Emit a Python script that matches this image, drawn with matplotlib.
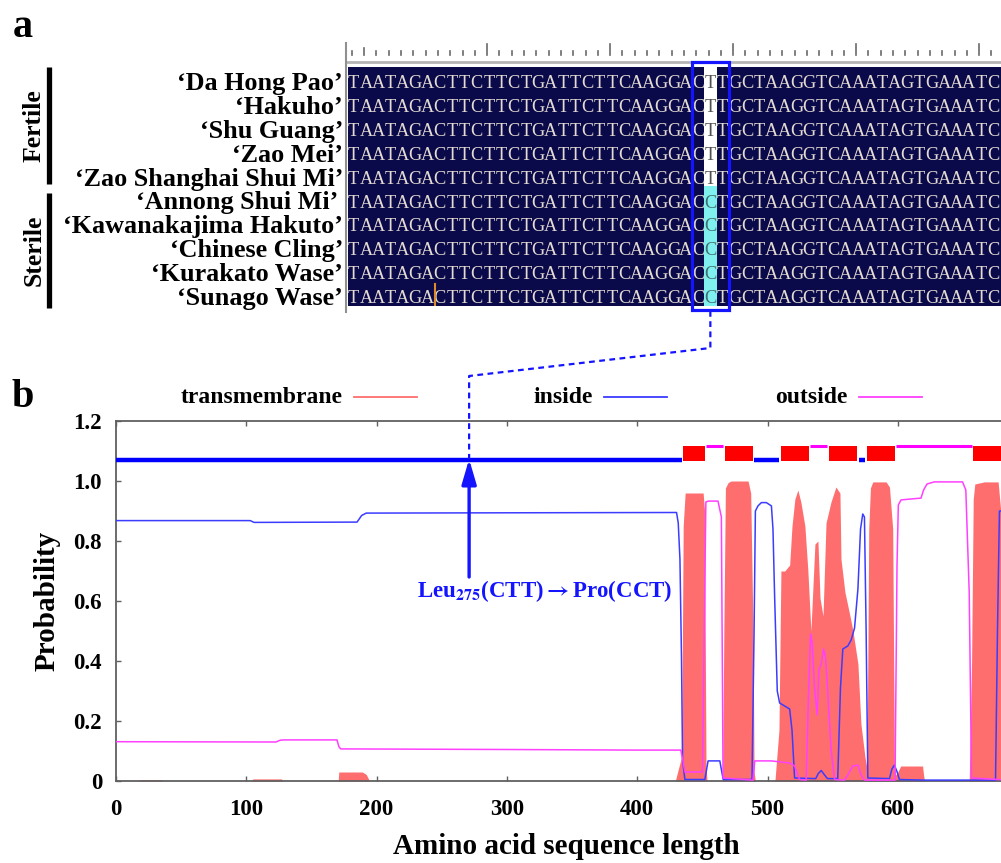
import matplotlib
matplotlib.use("Agg")
import matplotlib.pyplot as plt
from matplotlib.lines import Line2D
from matplotlib.patches import Rectangle
from matplotlib.ticker import FixedLocator, FuncFormatter

# ------------------------------------------------------------------ data
# panel a: alignment
cultivars = ["‘Da Hong Pao’", "‘Hakuho’", "‘Shu Guang’", "‘Zao Mei’",
             "‘Zao Shanghai Shui Mi’", "‘Annong Shui Mi’ ", "‘Kawanakajima Hakuto’",
             "‘Chinese Cling’", "‘Kurakato Wase’", "‘Sunago Wase’"]
groups = ["Fertile", "Sterile"]
group_sizes = [5, 5]
fertile_seq = "TAATAGACTTCTTCTGATTCTTCAAGGACTTGCTAAGGTCAAATAGTGAAATC"
sterile_seq = "TAATAGACTTCTTCTGATTCTTCAAGGACCTGCTAAGGTCAAATAGTGAAATC"
snp_col = 29          # 0-based column of the T/C polymorphism
box_cols = (28, 31)   # boxed codon columns

# panel b: TMHMM posterior probabilities (x = residue, y = probability)
tm_points = [(0, 0), (17, 0), (18, 0.004), (35, 0.004), (36, 0), (104, 0), (105, 0.007),
             (127, 0.007), (128, 0), (170.5, 0), (171, 0.03), (189, 0.03), (192, 0.022),
             (194, 0.005), (194.5, 0), (427, 0), (429.2, 0), (432.2, 0.05), (434.1, 0.08),
             (435.3, 0.85), (436.8, 0.96), (450.6, 0.96), (451.7, 0.9), (452.8, 0.05),
             (453.6, 0), (465.5, 0), (466.5, 0.5), (467.7, 0.977), (469.8, 0.995),
             (472.1, 1.0), (485.1, 1.0), (487.1, 0.96), (488.9, 0.5), (489.7, 0.03),
             (490.7, 0), (505.7, 0), (508.8, 0.17), (510.3, 0.70), (513.2, 0.70),
             (517.0, 0.72), (518.8, 0.85), (521.0, 0.94), (523.3, 0.97), (525.6, 0.93),
             (528.7, 0.85), (531.0, 0.70), (533.3, 0.50), (536.4, 0.79), (538.7, 0.80),
             (540.3, 0.61), (542.6, 0.55), (544.9, 0.86), (548.7, 0.93), (552.5, 0.98),
             (555.6, 0.96), (556.4, 0.74), (559.4, 0.63), (563.3, 0.55), (565.6, 0.50),
             (569.4, 0.39), (571.7, 0.19), (574.8, 0.08), (576.4, 0.04), (577.7, 0.84),
             (579.0, 0.977), (580.8, 0.997), (591.0, 0.997), (593.6, 0.98), (596.1, 0.84),
             (597.4, 0.05), (598.4, 0.02), (600.0, 0.03), (602.2, 0.05), (619.0, 0.05),
             (619.8, 0.02), (620.5, 0), (654.8, 0), (656.6, 0.39), (657.9, 0.94),
             (659.1, 0.99), (666.3, 0.997), (677, 0.997), (679, 0.9), (680, 0.1),
             (681, 0), (685, 0)]
inside_points = [(0, 0.868), (103, 0.868), (106, 0.862), (185, 0.863), (188.5, 0.885),
                 (192, 0.893), (300, 0.894), (430.2, 0.895), (431.5, 0.86), (432.8, 0.74),
                 (434, 0.41), (434.8, 0.07), (436.6, 0.005), (451.9, 0.005), (454.4, 0.067),
                 (463.4, 0.067), (466, 0.005), (488.1, 0.005), (489.7, 0.5), (490.7, 0.9),
                 (492.7, 0.917), (495.3, 0.928), (499.1, 0.928), (503, 0.917), (504.2, 0.84),
                 (505.5, 0.61), (507.5, 0.3), (509.3, 0.26), (517, 0.24), (518.8, 0.17),
                 (520.8, 0.01), (537, 0.008), (539, 0.025), (541.2, 0.035), (543.8, 0.02),
                 (546, 0.008), (553.9, 0.008), (556, 0.31), (557.8, 0.44), (561.6, 0.45),
                 (564.2, 0.47), (566.8, 0.51), (569.4, 0.64), (571.4, 0.84), (573.1, 0.89),
                 (574.4, 0.88), (575.7, 0.5), (577, 0.01), (593.6, 0.008), (595.5, 0.04),
                 (597.4, 0.053), (599.5, 0.03), (601.2, 0.005), (620, 0.003), (675, 0.003),
                 (676.5, 0.5), (678, 0.9), (685, 0.9)]
outside_points = [(0, 0.131), (122.7, 0.13), (126, 0.136), (129, 0.137), (169.6, 0.137),
                  (171, 0.115), (172.4, 0.107), (300, 0.105), (400, 0.103), (433.5, 0.103),
                  (436.6, 0.03), (450.1, 0.03), (452.7, 0.93), (454.5, 0.933), (462, 0.933),
                  (464.6, 0.88), (465.9, 0.01), (488.9, 0.003), (490.2, 0.067), (503, 0.067),
                  (517, 0.06), (520.8, 0.05), (524.6, 0.005), (529.7, 0.003), (531.5, 0.29),
                  (533.1, 0.49), (534.3, 0.46), (536.1, 0.31), (538.1, 0.22), (539.4, 0.37),
                  (541.2, 0.39), (543, 0.44), (544.6, 0.41), (546.3, 0.29), (548.9, 0.1),
                  (551.5, 0.005), (559.1, 0.003), (561.6, 0.02), (565.5, 0.05), (569.4, 0.053),
                  (571.8, 0.02), (574.4, 0.003), (597.9, 0.003), (599.4, 0.72), (600.4, 0.92),
                  (602.5, 0.937), (617.8, 0.943), (619.8, 0.97), (622.4, 0.99), (628, 0.997),
                  (649.7, 0.997), (652.2, 0.97), (654.8, 0.63), (656.6, 0.01), (685, 0.003)]
topo_inside = [(0, 434), (490, 509), (570, 575), (681, 685)]
topo_outside = [(453, 466), (533, 546), (599, 657)]
topo_tm = [(435, 452), (467, 489), (510, 532), (547, 569), (576, 598), (658, 680)]
legend_labels = ["transmembrane", "inside", "outside"]
x_ticks = [0, 100, 200, 300, 400, 500, 600, 700]
y_ticks = [0, 0.2, 0.4, 0.6, 0.8, 1.0, 1.2]
mutation_pos = 271
mutation_label = r"Leu$_{275}$(CTT)$\rightarrow$Pro(CCT)"

# ------------------------------------------------------------------ style
W, H = 1001, 863
plt.rcParams['font.family'] = ['Liberation Serif', 'DejaVu Serif']
plt.rcParams['font.weight'] = 'bold'
plt.rcParams['mathtext.fontset'] = 'stix'
plt.rcParams['mathtext.default'] = 'bf'

TM_FILL = '#ff6e6e'
IN_COL = '#3c3cff'
OUT_COL = '#ff40ff'
MARK_BLUE = '#1414ff'
NAVY = '#0a0a4a'

fig = plt.figure(figsize=(W / 100, H / 100), dpi=100)


def fx(px):
    return px / W


def fy(py):
    return 1 - py / H


# ------------------------------------------------------------------ panel a
CW, A_LEFT, A_TOP, RH = 12.3, 347.5, 67.0, 23.9
ncol = len(fertile_seq)
nrow = len(cultivars)
ax_a = fig.add_axes([fx(A_LEFT), fy(A_TOP + RH * nrow), ncol * CW / W, RH * nrow / H])
ax_a.set_xlim(0, ncol)
ax_a.set_ylim(nrow, 0)
ax_a.set_axis_off()


def ccol(px):
    return (px - A_LEFT) / CW


def crow(py):
    return (py - A_TOP) / RH


seqs = [fertile_seq] * group_sizes[0] + [sterile_seq] * group_sizes[1]
ax_a.add_patch(Rectangle((0, 0), ccol(1001.5), nrow, facecolor=NAVY, edgecolor='none',
                         zorder=1, clip_on=False))
for r, s in enumerate(seqs):
    fertile = r < group_sizes[0]
    for c, ch in enumerate(s):
        col = '#e4dbd2'
        if c == snp_col:
            ax_a.add_patch(Rectangle((c, r), 1, 1, facecolor='white' if fertile else '#7ff0ee',
                                     edgecolor='none', zorder=2))
            col = '#505050' if fertile else '#3f6f70'
        ax_a.text(c + 0.5, r + 0.88, ch, ha='center', va='baseline', fontsize=13.2,
                  fontweight='normal', color=col, zorder=3)
    ax_a.text(ccol(343), r + 0.96, cultivars[r], ha='right', va='baseline', fontsize=18.8,
              fontweight='bold', color='black', clip_on=False)

# cursor in last row
ax_a.plot([7.08, 7.08], [nrow - 1 + 0.1, nrow - 0.05], color='#e08a2a', lw=1.5, zorder=4)

# ruler
for c in range(ncol):
    x = c + 0.35
    if c % 10 == 1 and c > 1:
        top = crow(44)
    elif c == 1:
        top = crow(48)
    else:
        top = crow(51)
    ax_a.plot([x, x], [top, crow(55)], color='#6a6a6a', lw=1.2, clip_on=False)
ax_a.plot([ccol(346), ccol(1001.5)], [crow(62), crow(62)], color='#b4b4b4', lw=2, clip_on=False)
ax_a.plot([ccol(346), ccol(346)], [crow(43), crow(312)], color='#909090', lw=1.5, clip_on=False)

# blue box around codon
ax_a.add_patch(Rectangle((box_cols[0], crow(62)), box_cols[1] - box_cols[0], crow(310) - crow(62),
                         fill=False, edgecolor=MARK_BLUE, lw=2.3, clip_on=False, zorder=5))

# group bars and labels
start = 0
bar_x = ccol(49)
for g, n in zip(groups, group_sizes):
    top_r = start + (0.0 if start == 0 else 0.27)
    bot_r = start + n - (0.1 if start == 0 else -0.1)
    ax_a.plot([bar_x, bar_x], [top_r, bot_r], color='black', lw=3.8, solid_capstyle='butt',
              clip_on=False)
    ax_a.text(ccol(34), (top_r + bot_r) / 2, g, rotation=90, ha='center', va='center',
              fontsize=18.5, fontweight='bold', clip_on=False)
    start += n

fig.text(fx(13), fy(37), 'a', fontsize=29, fontweight='bold', va='baseline', ha='left')

# ------------------------------------------------------------------ panel b
L_PX, B_PX, T_PX, XS, XMAX = 116.0, 781.0, 421.0, 1.303, 685
ax = fig.add_axes([fx(L_PX), fy(B_PX), XMAX * XS / W, (B_PX - T_PX) / H])
ax.set_xlim(0, XMAX)
ax.set_ylim(0, 1.2)

tx, ty = zip(*tm_points)
ix, iy = zip(*inside_points)
ox, oy = zip(*outside_points)
ax.fill_between(tx, 0, ty, color=TM_FILL, lw=0, zorder=2)
ax.plot(ix, iy, color=IN_COL, lw=1.1, zorder=3)
ax.plot(ox, oy, color=OUT_COL, lw=1.1, zorder=3)

for a, b in topo_inside:
    ax.plot([a, b], [1.071, 1.071], color='#0000ff', lw=3.2, solid_capstyle='butt', zorder=4)
for a, b in topo_outside:
    ax.plot([a, b], [1.116, 1.116], color='#ff00ff', lw=2.2, solid_capstyle='butt', zorder=4)
for a, b in topo_tm:
    ax.add_patch(Rectangle((a, 1.067), b - a, 0.05, facecolor='#ff0000', edgecolor='none',
                           zorder=4))

for sp in ['left', 'bottom', 'top', 'right']:
    ax.spines[sp].set_color('#606060')
    ax.spines[sp].set_linewidth(1.3)
ax.xaxis.set_major_locator(FixedLocator(x_ticks))
ax.yaxis.set_major_locator(FixedLocator(y_ticks))
ax.yaxis.set_major_formatter(FuncFormatter(lambda v, p: '0' if abs(v) < 1e-9 else f'{v:.1f}'))
ax.xaxis.set_major_formatter(FuncFormatter(lambda v, p: f'{int(round(v))}'))
ax.tick_params(axis='both', direction='in', length=3.5, width=1, color='#606060',
               top=True, right=True, labelsize=16.5)
ax.tick_params(axis='x', pad=13)
ax.tick_params(axis='y', pad=10)
for lbl in ax.get_xticklabels() + ax.get_yticklabels():
    lbl.set_fontweight('bold')

ax.set_xlabel('Amino acid sequence length', fontsize=21, fontweight='bold')
ax.xaxis.set_label_coords((566 - L_PX) / (XMAX * XS), (B_PX - 833) / (B_PX - T_PX))
ax.set_ylabel('Probability', fontsize=21, fontweight='bold')
ax.yaxis.set_label_coords((61 - L_PX) / (XMAX * XS), 0.5)

# mutation arrow + label
ax.annotate('', xy=(mutation_pos, 1.073), xytext=(mutation_pos, 0.68),
            arrowprops=dict(arrowstyle='-|>,head_length=0.75,head_width=0.22', color=MARK_BLUE,
                            lw=2.4, shrinkA=0, shrinkB=0, mutation_scale=20), zorder=6)
ax.text(329, 0.612, mutation_label, color=MARK_BLUE, ha='center', va='baseline',
        fontsize=16.5, fontweight='bold', zorder=6)

# dashed connector from alignment box to the arrow tip
arrow_px = L_PX + mutation_pos * XS
box_cx = A_LEFT + (snp_col + 0.5) * CW
conn_px = [(box_cx, 311), (box_cx, 348), (arrow_px, 376), (arrow_px, 459)]
fig.add_artist(Line2D([fx(p[0]) for p in conn_px], [fy(p[1]) for p in conn_px],
                      color=MARK_BLUE, lw=1.6, linestyle=(0, (2.6, 2.0)), zorder=10))

# legend (text then line sample)
leg_cols = [TM_FILL, IN_COL, OUT_COL]
leg_text_right = [343, 593, 848]
for lab, colr, xr in zip(legend_labels, leg_cols, leg_text_right):
    fig.text(fx(xr), fy(403), lab, ha='right', va='baseline', fontsize=17, fontweight='bold')
    fig.add_artist(Line2D([fx(xr + 11), fx(xr + 74)], [fy(397.5), fy(397.5)], color=colr, lw=1.3))

fig.text(fx(12), fy(407), 'b', fontsize=29, fontweight='bold', va='baseline', ha='left')

fig.savefig('out.png', dpi=100)
